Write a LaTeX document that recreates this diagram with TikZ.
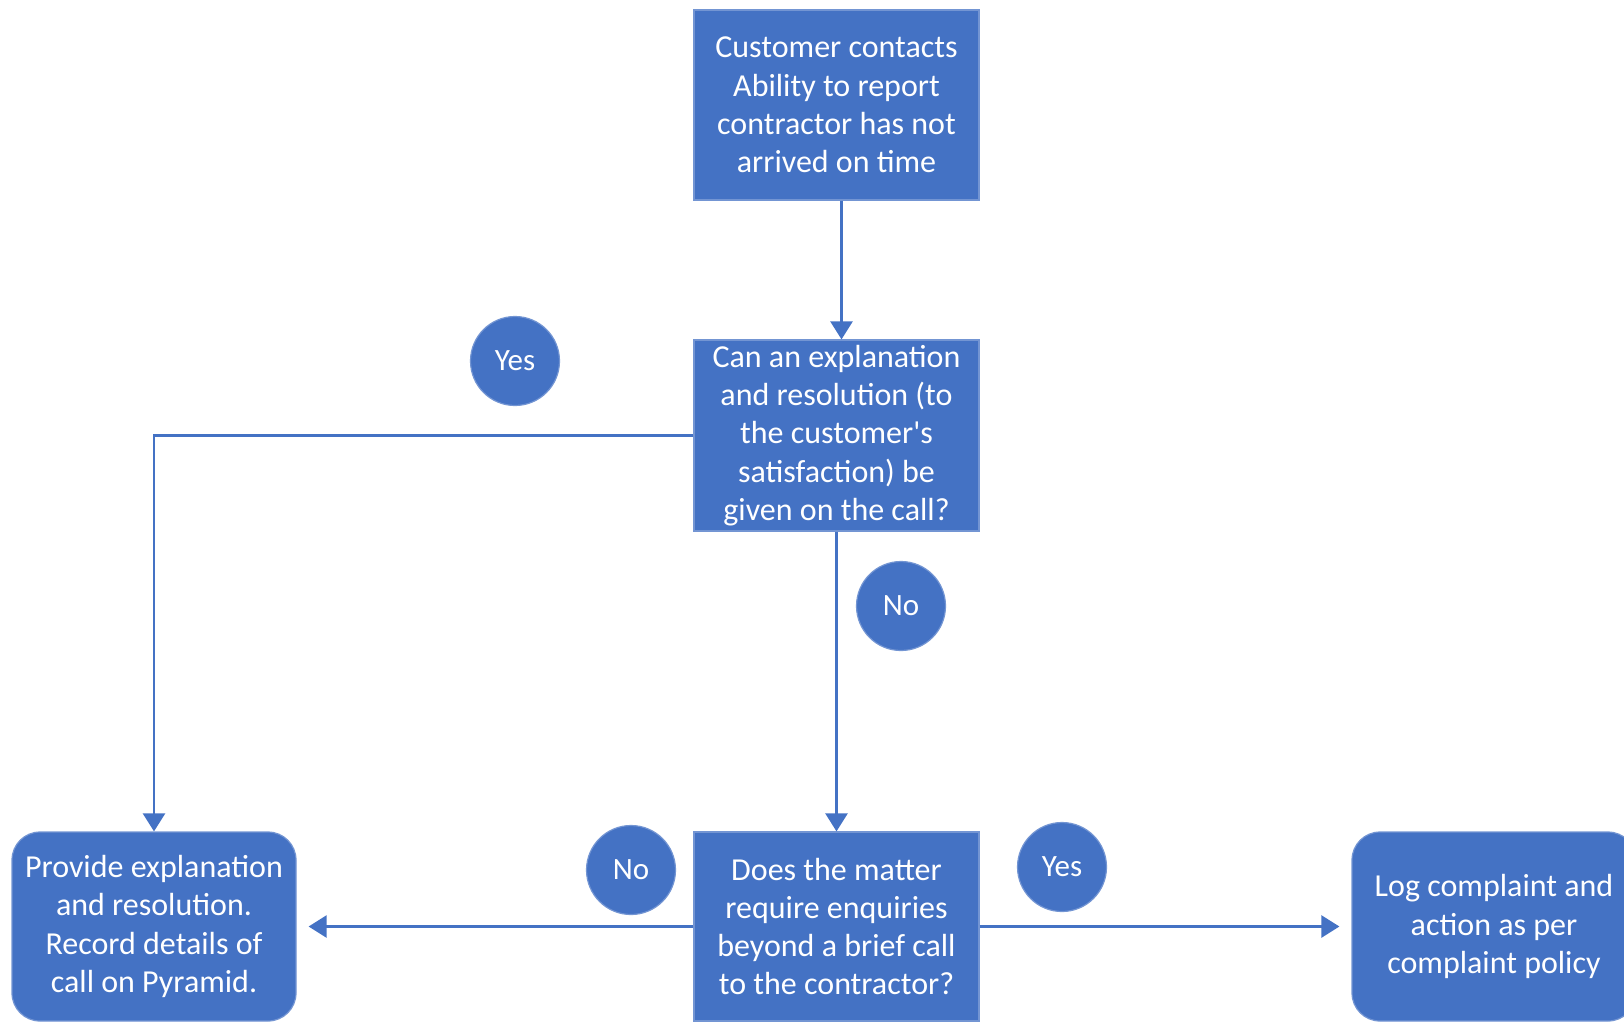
\documentclass[tikz,border=0pt]{standalone}
\usepackage{fontspec}
\setmainfont{Carlito}
\newfontfamily\plainq{Carlito}
\usetikzlibrary{arrows.meta,calc}
\definecolor{ofblue}{HTML}{4472C4}
\begin{document}
\begin{tikzpicture}[x=1pt,y=-1pt,
  flowbox/.style={rectangle, fill=ofblue, draw=ofblue!75!white, line width=1.2pt, text=white, align=center, inner sep=0pt, font=\fontsize{32}{38.3}\selectfont},
  roundbox/.style={flowbox, rounded corners=28pt},
  badge/.style={circle, fill=ofblue, draw=ofblue!75!white, line width=1.2pt, text=white, minimum size=89pt, inner sep=0pt, font=\fontsize{31}{36}\selectfont},
  conn/.style={draw=ofblue, line width=2.5pt},
  arr/.style={conn, -{Triangle[length=18pt,width=22pt]}}]
\useasboundingbox (0,0) rectangle (1624,1021);
\node[flowbox, minimum width=285pt, minimum height=190pt] (start) at (836.5,105) {Customer contacts\\Ability to report\\contractor has not\\arrived on time};
\node[flowbox, minimum width=285pt, minimum height=191pt] (q1) at (836.5,435.5) {Can an explanation\\and resolution (to\\the customer{\plainq'}s\\satisfaction) be\\given on the call?};
\node[flowbox, minimum width=285pt, minimum height=189pt] (q2) at (836.5,926.5) {Does the matter\\require enquiries\\beyond a brief call\\to the contractor?};
\node[roundbox, minimum width=284pt, minimum height=189pt] (left) at (154,926.5) {Provide explanation\\and resolution.\\Record details of\\call on Pyramid.};
\node[roundbox, minimum width=284pt, minimum height=189pt] (right) at (1494,926.5) {Log complaint and\\action as per\\complaint policy};
\node[badge] (yes1) at (515,361) {Yes};
\node[badge] (no1) at (901,606) {No};
\node[badge] (no2) at (631,870) {No};
\node[badge] (yes2) at (1062,867) {Yes};
\coordinate (lefttip) at ($(left.east)+(12,0)$);
\coordinate (righttip) at ($(right.west)+(-12,0)$);
\draw[arr] ([xshift=5pt]start.south) -- ([xshift=5pt]q1.north);
\draw[arr] (q1.west) -| (left.north);
\draw[arr] (q1.south) -- (q2.north);
\draw[arr] (q2.west) -- (lefttip);
\draw[arr] (q2.east) -- (righttip);
\end{tikzpicture}
\end{document}
